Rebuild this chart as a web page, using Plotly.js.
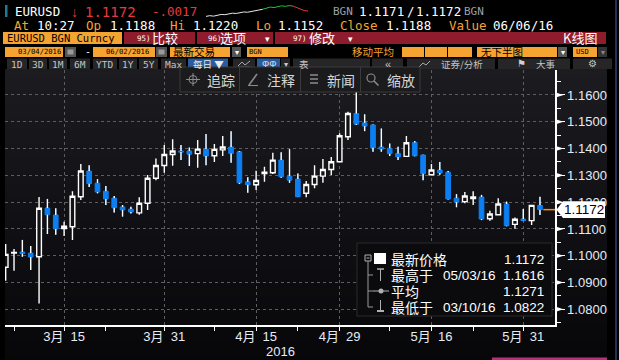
<!DOCTYPE html>
<html><head><meta charset="utf-8">
<script src="https://cdn.plot.ly/plotly-3.0.1.min.js"></script>
<style>html,body{margin:0;padding:0;background:#000;overflow:hidden}#chart{width:619px;height:360px}</style>
</head><body><div id="chart"></div>
<script>
// ---------------- DATA ----------------
const dates = ['2016-03-04','2016-03-07','2016-03-08','2016-03-09','2016-03-10','2016-03-11','2016-03-14','2016-03-15','2016-03-16','2016-03-17','2016-03-18','2016-03-21','2016-03-22','2016-03-23','2016-03-24','2016-03-25','2016-03-28','2016-03-29','2016-03-30','2016-03-31',
'2016-04-01','2016-04-04','2016-04-05','2016-04-06','2016-04-07','2016-04-08','2016-04-11','2016-04-12','2016-04-13','2016-04-14','2016-04-15','2016-04-18','2016-04-19','2016-04-20','2016-04-21','2016-04-22','2016-04-25','2016-04-26','2016-04-27','2016-04-28','2016-04-29',
'2016-05-02','2016-05-03','2016-05-04','2016-05-05','2016-05-06','2016-05-09','2016-05-10','2016-05-11','2016-05-12','2016-05-13','2016-05-16','2016-05-17','2016-05-18','2016-05-19','2016-05-20','2016-05-23','2016-05-24','2016-05-25','2016-05-26','2016-05-27','2016-05-30','2016-05-31',
'2016-06-01','2016-06-02'];
const openP  = [1.0957,1.1010,1.1014,1.1010,1.0996,1.1178,1.1152,1.1101,1.1108,1.1220,1.1316,1.1271,1.1241,1.1215,1.1182,1.1174,1.1160,1.1196,1.1289,1.1337,
1.1378,1.1391,1.1391,1.1381,1.1398,1.1373,1.1395,1.1406,1.1388,1.1276,1.1265,1.1307,1.1310,1.1357,1.1297,1.1286,1.1233,1.1266,1.1297,1.1322,1.1351,
1.1444,1.1531,1.1496,1.1488,1.1406,1.1401,1.1382,1.1371,1.1423,1.1376,1.1302,1.1320,1.1312,1.1215,1.1202,1.1213,1.1219,1.1138,1.1153,1.1193,1.1117,1.1137,
1.1131,1.1188];
const highP  = [1.1044,1.1025,1.1059,1.1036,1.1219,1.1212,1.1177,1.1127,1.1241,1.1342,1.1338,1.1286,1.1260,1.1223,1.1189,1.1183,1.1218,1.1301,1.1363,1.1413,
1.1435,1.1413,1.1404,1.1432,1.1454,1.1417,1.1447,1.1465,1.1391,1.1293,1.1317,1.1332,1.1384,1.1386,1.1398,1.1307,1.1279,1.1338,1.1361,1.1369,1.1457,
1.1537,1.1616,1.1528,1.1490,1.1475,1.1419,1.1407,1.1447,1.1428,1.1377,1.1342,1.1350,1.1316,1.1230,1.1238,1.1241,1.1227,1.1168,1.1215,1.1202,1.1143,1.1174,
1.1190,1.1220];
const lowP   = [1.0907,1.0944,1.0996,1.0947,1.0822,1.1081,1.1078,1.1074,1.1059,1.1208,1.1257,1.1233,1.1189,1.1161,1.1146,1.1158,1.1153,1.1171,1.1282,1.1310,
1.1336,1.1357,1.1335,1.1328,1.1338,1.1350,1.1372,1.1347,1.1268,1.1235,1.1245,1.1276,1.1305,1.1291,1.1272,1.1219,1.1218,1.1252,1.1272,1.1301,1.1348,
1.1432,1.1488,1.1465,1.1388,1.1388,1.1372,1.1357,1.1369,1.1371,1.1282,1.1300,1.1302,1.1210,1.1181,1.1196,1.1189,1.1133,1.1131,1.1152,1.1110,1.1101,1.1130,
1.1115,1.1152];
const closeP = [1.1005,1.1012,1.1008,1.0995,1.1177,1.1153,1.1100,1.1110,1.1222,1.1316,1.1269,1.1238,1.1212,1.1179,1.1171,1.1163,1.1196,1.1289,1.1337,1.1378,
1.1391,1.1387,1.1379,1.1398,1.1372,1.1397,1.1406,1.1382,1.1272,1.1265,1.1281,1.1312,1.1357,1.1295,1.1282,1.1220,1.1266,1.1297,1.1322,1.1351,1.1448,
1.1531,1.1491,1.1484,1.1403,1.1398,1.1381,1.1369,1.1422,1.1373,1.1306,1.1320,1.1309,1.1212,1.1200,1.1223,1.1219,1.1137,1.1156,1.1193,1.1112,1.1136,1.1131,
1.1188,1.1172];

const xTickDates  = ['2016-03-15','2016-03-31','2016-04-15','2016-04-29','2016-05-16','2016-05-31'];
const xTickLabels = ['3月\u00a0\u00a015','3月\u00a0\u00a031','4月\u00a0\u00a015','4月\u00a0\u00a029','5月\u00a0\u00a016','5月\u00a0\u00a031'];
const xMinorDates = ['2016-03-07','2016-03-22','2016-04-08','2016-04-22','2016-05-09','2016-05-23'];
const yTickVals   = [1.08,1.09,1.10,1.11,1.12,1.13,1.14,1.15,1.16];
const yTickLabels = ['1.0800','1.0900','1.1000','1.1100','1.1200','1.1300','1.1400','1.1500','1.1600'];
const lastPrice = 1.1172;
const lastPriceLabel = '1.1172';
const yearLabel = '2016';

const statsNames  = ['最新价格','最高于','平均','最低于'];
const statsDates  = ['','05/03/16','','03/10/16'];
const statsValues = ['1.1172','1.1616','1.1271','1.0822'];

const sparkWhite = [1.1150,1.1153,1.1151,1.1156,1.1158,1.1157,1.1161,1.1163,1.1162,1.1166,1.1168,1.1167,1.1171,1.1174,1.1176,1.1179];
const sparkGreen = [1.1179,1.1184,1.1188,1.1186,1.1190,1.1193,1.1191,1.1194,1.1192];
const sparkRed   = [1.1192,1.1186,1.1180,1.1174,1.1172];

// ---------------- LAYOUT HELPERS ----------------
const W = 619, H = 360;
const X = px => px / W;
const Y = py => 1 - py / H;
const MONO = '"DejaVu Sans Mono", monospace';
const SANS = '"Liberation Sans", Arial, "Noto Sans CJK SC", sans-serif';
const CJK  = '"Noto Sans CJK SC", "Liberation Sans", sans-serif';
const ORANGE = '#f6a431', DRED = '#8e1c2c', BLUE = '#0c7ff2';

const shapes = [], annotations = [];
function rect(x0, y0, x1, y1, fill, line, layer) {
  shapes.push({type:'rect', xref:'paper', yref:'paper', x0:X(x0), x1:X(x1), y0:Y(y1), y1:Y(y0),
    fillcolor: fill, line:{width: line ? 1 : 0, color: line || 'rgba(0,0,0,0)'}, layer: layer || 'above'});
}
function seg(x0, y0, x1, y1, color, w) {
  shapes.push({type:'line', xref:'paper', yref:'paper', x0:X(x0), x1:X(x1), y0:Y(y0), y1:Y(y1),
    line:{color:color, width:w || 1}, layer:'above'});
}
function txt(x, y, t, size, color, family, anchor) {
  annotations.push({xref:'paper', yref:'paper', x:X(x), y:Y(y), text:t, showarrow:false,
    xanchor: anchor || 'left', yanchor:'middle', borderpad:0,
    font:{family: family || SANS, size:size, color:color}});
}

// chart background gradient (bands)
const g0 = [27,27,32], g1 = [7,7,10];
for (let y = 69; y < 360; y += 3) {
  const t = (y - 69) / 291;
  const c = g0.map((v, k) => Math.round(v + (g1[k] - v) * t));
  rect(5, y, 607, Math.min(y + 3, 360), `rgb(${c[0]},${c[1]},${c[2]})`, null, 'below');
}

// ---- header row 1 ----
rect(5, 5, 7.5, 17, '#1f7a99');
txt(14, 12, 'EURUSD', 12.5, '#ffffff', MONO);
txt(70, 12, '↓', 14, '#e8393c', SANS);
txt(84, 12, '1.1172', 14, '#e8393c', MONO);
txt(151, 12, '-.0017', 12.5, '#e8393c', MONO);
txt(332, 12, 'BGN', 11, '#9aa0a8', MONO);
txt(358, 12, '1.1171', 12.5, '#ffffff', MONO);
txt(406, 12, '/', 12.5, '#ffffff', MONO);
txt(415, 12, '1.1172', 12.5, '#ffffff', MONO);
txt(463, 12, 'BGN', 11, '#9aa0a8', MONO);

// ---- header row 2 ----
const row2 = [[13,'At',ORANGE],[36,'10:27','#fff'],[85,'Op',ORANGE],[109,'1.1188','#fff'],[169,'Hi',ORANGE],[192,'1.1220','#fff'],
  [255,'Lo',ORANGE],[277,'1.1152','#fff'],[339,'Close',ORANGE],[385,'1.1188','#fff'],[448,'Value',ORANGE],[492,'06/06/16','#fff']];
row2.forEach(r => txt(r[0], 26, r[1], 12.5, r[2], MONO));

// ---- header row 3 ----
rect(3, 32, 122, 44, ORANGE);
txt(6, 38.5, 'EURUSD BGN Curncy', 10.5, '#000', MONO);
rect(124, 32, 195, 44, DRED);
txt(136, 38.5, '95)', 7.5, '#fff', MONO); txt(151, 38, '比较', 13, '#fff', CJK);
rect(197, 32, 273, 44, DRED);
txt(207, 38.5, '96)', 7.5, '#fff', MONO); txt(219, 38, '选项', 13, '#fff', CJK); txt(264, 39, '▾', 9, '#fff', SANS);
rect(275, 32, 606, 44, DRED);
txt(292, 38.5, '97)', 7.5, '#fff', MONO); txt(308, 38, '修改', 13, '#fff', CJK); txt(347, 39, '▾', 9, '#fff', SANS);
txt(562, 38, 'K线图', 13, '#fff', CJK);

// ---- header row 4 ----
rect(5, 47, 63, 57, ORANGE); txt(17, 52, '03/04/2016', 7.2, '#000', MONO);
rect(65, 47, 76, 57, '#555'); rect(67.5, 49.5, 73.5, 54.5, '#9a9a9a');
txt(84, 52, '-', 10, '#fff', MONO);
rect(93, 47, 155, 57, ORANGE); txt(105, 52, '06/02/2016', 7.2, '#000', MONO);
rect(156, 47, 167, 57, '#555'); rect(158.5, 49.5, 164.5, 54.5, '#9a9a9a');
rect(170, 47, 230, 57, ORANGE); txt(172, 52, '最新交易', 10.5, '#000', CJK);
rect(232, 47, 241, 57, '#555'); txt(236.5, 52.5, '▾', 8, '#fff', SANS, 'center');
rect(247, 47, 288, 57, ORANGE); txt(248, 52, 'BGN', 7, '#000', MONO);
txt(351, 51.5, '移动平均', 10.5, ORANGE, CJK);
rect(402, 47, 424, 57, ORANGE); rect(425, 47, 447, 57, ORANGE); rect(448, 47, 472, 57, ORANGE);
rect(477, 47, 557, 57, ORANGE); txt(480, 52, '无下半图', 10.5, '#000', CJK);
rect(558, 47, 567, 57, '#555'); txt(562.5, 52.5, '▾', 8, '#fff', SANS, 'center');
rect(573, 47, 597, 57, ORANGE); txt(575, 52, 'USD', 7, '#000', MONO);
rect(598, 47, 607, 57, '#333'); txt(602.5, 52.5, '▾', 8, '#888', SANS, 'center');

// ---- header row 5 (buttons) ----
const BTN = '#262628';
[[7,27,'1D'],[29,47,'3D'],[49,67,'1M'],[70,90,'6M'],[93,117,'YTD'],[119,137,'1Y'],[139,158,'5Y'],[161,186,'Max']].forEach(b => {
  rect(b[0], 58.5, b[1], 69, BTN); txt((b[0] + b[1]) / 2, 64, b[2], 9.5, '#c4c4c4', MONO, 'center');
});
rect(188, 58.5, 228, 69, '#2a5c9c'); txt(208, 63.5, '每日 ▼', 9.5, '#e8e8e8', CJK, 'center');
rect(233, 58.5, 255, 69, BTN);
seg(238, 66, 242, 62, '#aaa'); seg(242, 62, 245, 65, '#aaa'); seg(245, 65, 250, 61, '#aaa'); seg(238, 67, 250, 67, '#777');
rect(257, 58.5, 280, 69, '#2a5c9c'); txt(268.5, 64, 'ΦΦ', 9, '#e0e0e0', SANS, 'center');
rect(281, 58.5, 290, 69, BTN); txt(285.5, 64, '▾', 8, '#ccc', SANS, 'center');
rect(293, 58.5, 370, 69, BTN); txt(298, 63.5, '表', 9.5, '#c4c4c4', CJK);
rect(372, 58.5, 403, 69, BTN); txt(387.5, 63.5, '«', 11, '#c4c4c4', SANS, 'center');
rect(407, 58.5, 495, 69, BTN);
seg(419, 67, 423, 63, '#aaa'); seg(423, 63, 426, 65, '#aaa'); seg(426, 65, 430, 61, '#aaa');
txt(440, 63.5, '证券/分析', 9.5, '#c4c4c4', CJK);
rect(498, 58.5, 570, 69, BTN); txt(516, 63.5, '⚑', 10, '#d0d0d0', SANS); txt(535, 63.5, '大事', 9.5, '#c4c4c4', CJK);
rect(573, 58.5, 612, 69, BTN); txt(592.5, 63.5, '⚙', 10, '#c4c4c4', SANS, 'center');

// right border line and bottom accent
seg(616, 0, 616, 360, '#1f3358', 2);
rect(492, 357.5, 607, 360, '#b8307c');

// ---- in-chart toolbar ----
rect(180, 67, 420, 92, '#1b1b1d', '#3a3a3c');
[239.5, 300.5, 360.5].forEach(x => seg(x, 67, x, 92, '#3a3a3c'));
shapes.push({type:'circle', xref:'paper', yref:'paper', x0:X(189), x1:X(197), y0:Y(83.5), y1:Y(75.5), line:{color:'#8c8c8c', width:1}, layer:'above'});
seg(186, 79.5, 200, 79.5, '#8c8c8c'); seg(193, 73, 193, 86, '#8c8c8c');
txt(206, 79.5, '追踪', 14, '#d6d6d6', CJK);
seg(249, 85, 257, 74, '#8c8c8c', 1.5); seg(248, 85.5, 258, 85.5, '#8c8c8c', 1);
txt(266, 79.5, '注释', 14, '#d6d6d6', CJK);
[75, 79, 83].forEach(y => seg(310, y, 318, y, '#8c8c8c', 1.5));
txt(326, 79.5, '新闻', 14, '#d6d6d6', CJK);
shapes.push({type:'circle', xref:'paper', yref:'paper', x0:X(367), x1:X(375), y0:Y(82), y1:Y(74), line:{color:'#8c8c8c', width:1.2}, layer:'above'});
seg(374, 81, 378.5, 85.5, '#8c8c8c', 1.5);
txt(386, 79.5, '缩放', 14, '#d6d6d6', CJK);

// ---- stats box ----
rect(357, 243, 552, 316, '#0b0b0e', '#2a2a2e');
rect(365, 255, 371, 261, 'rgba(0,0,0,0)', '#b0b0b0'); seg(366.5, 258, 369.5, 258, '#b0b0b0');
rect(374, 253, 386, 264, '#ffffff');
seg(368, 261, 368, 307, '#9a9a9a'); [275, 291, 307].forEach(y => seg(368, y, 373, y, '#9a9a9a'));
seg(377, 269, 384, 269, '#b0b0b0', 1.5); seg(380.5, 269, 380.5, 281, '#b0b0b0');
seg(373, 291, 389, 291, '#b0b0b0');
shapes.push({type:'circle', xref:'paper', yref:'paper', x0:X(378.5), x1:X(383.5), y0:Y(293.5), y1:Y(288.5), fillcolor:'#b0b0b0', line:{width:0}, layer:'above'});
seg(380.5, 300, 380.5, 311, '#b0b0b0'); seg(377, 311, 384, 311, '#b0b0b0', 2);
const rowY = [259, 275, 291, 307];
statsNames.forEach((n, i) => {
  txt(390, rowY[i], n, 14, '#ffffff', CJK);
  if (statsDates[i]) txt(442, rowY[i] + 0.5, statsDates[i], 13.5, '#ffffff', SANS);
  txt(545, rowY[i] + 0.5, statsValues[i], 13.5, '#ffffff', SANS, 'right');
});

// year label
txt(280, 351, yearLabel, 13, '#e6ecf5', SANS, 'center');

// ---------------- TRACES ----------------
const idx = dates.map((d, i) => i);
const xRange = [-0.08, 65.8];
const yRange = [1.07414, 1.16933];
const pxPerY = (325 - 70) / (yRange[1] - yRange[0]);

const traces = [];
traces.push({
  type:'candlestick', x: idx, open: openP, high: highP, low: lowP, close: closeP,
  increasing:{line:{color:'#ffffff', width:1.4}, fillcolor:'#131317'},
  decreasing:{line:{color:BLUE, width:1}, fillcolor:BLUE},
  whiskerwidth:0, hoverinfo:'skip', showlegend:false, xaxis:'x', yaxis:'y'
});
// white wicks for down candles
const wx = [], wy = [];
idx.forEach(i => {
  if (closeP[i] < openP[i]) {
    wx.push(i, i, null, i, i, null);
    wy.push(highP[i], openP[i], null, closeP[i], lowP[i], null);
  }
});
traces.push({type:'scatter', mode:'lines', x:wx, y:wy, line:{color:'#ffffff', width:1.4}, hoverinfo:'skip', showlegend:false, xaxis:'x', yaxis:'y'});

// sparkline
const nW = sparkWhite.length, nG = sparkGreen.length;
traces.push({type:'scatter', mode:'lines', x: sparkWhite.map((v,i)=>i), y: sparkWhite, line:{color:'#e8e8e8', width:1}, xaxis:'x2', yaxis:'y2', hoverinfo:'skip', showlegend:false});
traces.push({type:'scatter', mode:'lines', x: sparkGreen.map((v,i)=>i + nW - 1), y: sparkGreen, line:{color:'#22c23a', width:1}, xaxis:'x2', yaxis:'y2', hoverinfo:'skip', showlegend:false});
traces.push({type:'scatter', mode:'lines', x: sparkRed.map((v,i)=>i + nW + nG - 2), y: sparkRed, line:{color:'#e8393c', width:1}, xaxis:'x2', yaxis:'y2', hoverinfo:'skip', showlegend:false});

// last price line + label, y-axis markers
const lastIdx = dates.length - 1;
shapes.push({type:'line', xref:'x', yref:'y', x0:lastIdx + 0.4, x1:xRange[1], y0:lastPrice, y1:lastPrice, line:{color:'#ff8c1a', width:1.5}, layer:'above'});
yTickVals.forEach(v => {
  const d = 2.8 / pxPerY;
  shapes.push({type:'path', xref:'paper', yref:'y', path:`M${X(555)},${v + d} L${X(563.5)},${v} L${X(555)},${v - d} Z`, fillcolor:'#ffffff', line:{width:0}, layer:'above'});
});
{
  const h = 8.3 / pxPerY;
  shapes.push({type:'path', xref:'paper', yref:'y',
    path:`M${X(556.5)},${lastPrice} L${X(563)},${lastPrice + h} L${X(605)},${lastPrice + h} L${X(605)},${lastPrice - h} L${X(563)},${lastPrice - h} Z`,
    fillcolor:'#ffffff', line:{width:0}, layer:'above'});
  annotations.push({xref:'paper', yref:'y', x:X(584), y:lastPrice, text:lastPriceLabel, showarrow:false, xanchor:'center', yanchor:'middle', borderpad:0,
    font:{family:SANS, size:13.5, color:'#000'}});
}

const layout = {
  width: W, height: H, margin:{l:0, r:0, t:0, b:0, pad:0},
  paper_bgcolor:'#000000', plot_bgcolor:'rgba(0,0,0,0)',
  showlegend:false, boxgap:0.2, dragmode:false,
  xaxis:{
    domain:[X(5), X(555)], range:xRange, anchor:'y', type:'linear', fixedrange:true,
    rangeslider:{visible:false},
    tickmode:'array', tickvals: xTickDates.map(d => dates.indexOf(d)), ticktext: xTickLabels,
    ticks:'outside', ticklen:4, tickwidth:1, tickcolor:'#ffffff', ticklabelstandoff:-5,
    tickfont:{family:SANS, size:13, color:'#e6ecf5'},
    showline:true, linecolor:'#ffffff', linewidth:1.5,
    showgrid:true, gridcolor:'#5d5d62', gridwidth:1, griddash:'3px,3px', zeroline:false,
    minor:{tickmode:'array', tickvals: xMinorDates.map(d => dates.indexOf(d)), ticks:'outside', ticklen:4, tickcolor:'#ffffff', showgrid:false}
  },
  yaxis:{
    domain:[Y(325), Y(70)], range:yRange, anchor:'x', side:'right', fixedrange:true,
    tickmode:'array', tickvals:yTickVals, ticktext:yTickLabels,
    ticks:'outside', ticklen:8, tickwidth:1, tickcolor:'#ffffff',
    tickfont:{family:SANS, size:13, color:'#e6ecf5'},
    showline:true, linecolor:'#ffffff', linewidth:1.5,
    showgrid:true, gridcolor:'#5d5d62', gridwidth:1, griddash:'3px,3px', zeroline:false,
    minor:{tickmode:'linear', tick0:1.075, dtick:0.01, ticks:'outside', ticklen:4, tickcolor:'#ffffff', showgrid:false}
  },
  xaxis2:{domain:[X(206), X(308)], anchor:'y2', visible:false, fixedrange:true, range:[0, nW + nG + sparkRed.length - 3]},
  yaxis2:{domain:[Y(17), Y(5)], anchor:'x2', visible:false, fixedrange:true},
  shapes: shapes, annotations: annotations
};

Plotly.newPlot('chart', traces, layout, {staticPlot:true, displayModeBar:false});
</script></body></html>
